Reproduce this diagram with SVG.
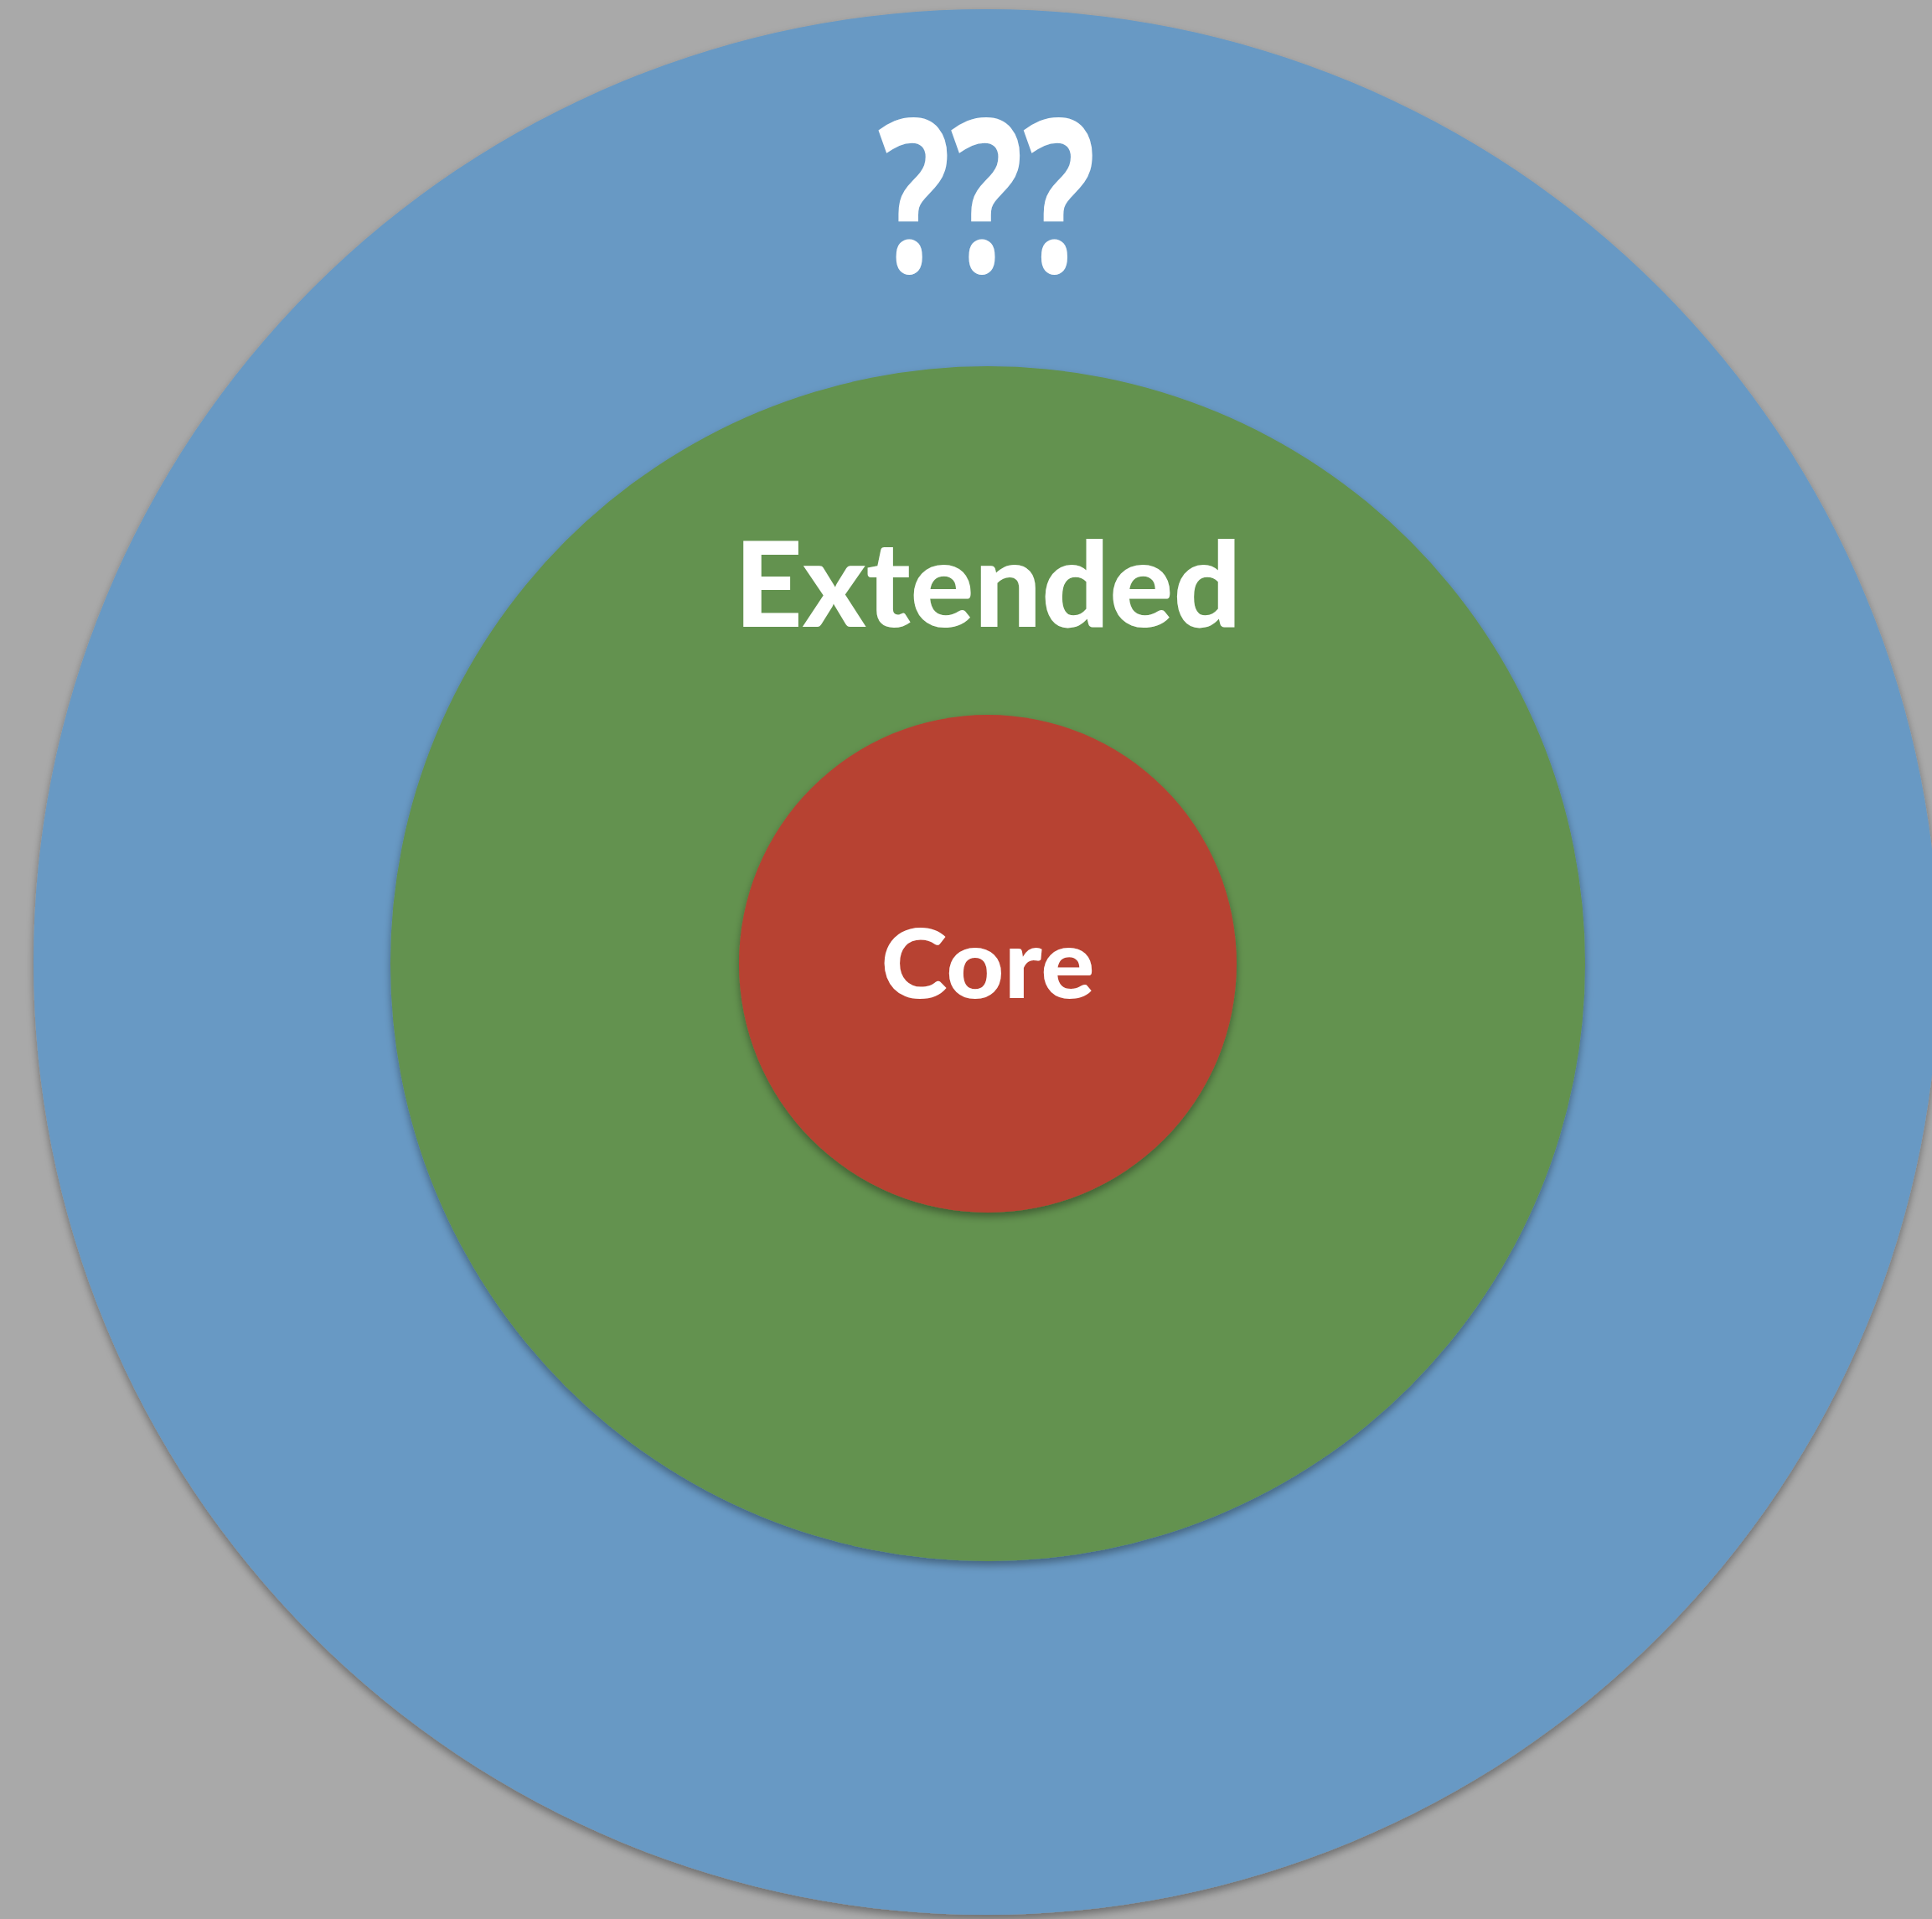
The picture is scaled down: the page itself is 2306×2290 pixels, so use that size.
<svg xmlns="http://www.w3.org/2000/svg" width="2306" height="2290" viewBox="0 0 2306 2290">
<style>
.lbl{font-family:Lato,"Open Sans","Liberation Sans",sans-serif;font-weight:900;fill:#ffffff;text-anchor:middle}
.q{font-family:"Open Sans",Lato,"Liberation Sans",sans-serif;font-weight:bold}
</style>
<defs>
<filter id="sh" x="-10%" y="-10%" width="120%" height="120%">
<feDropShadow dx="0" dy="5" stdDeviation="5" flood-color="#000000" flood-opacity="0.35"/>
</filter>
</defs>
<rect x="0" y="0" width="2306" height="2290" fill="#a9a9a9"/>
<g id="outer">
<circle cx="1177" cy="1148" r="1137" fill="#6899c4" filter="url(#sh)"/>
<text class="lbl q" x="1178" y="325" font-size="255" textLength="260" lengthAdjust="spacingAndGlyphs">???</text>
</g>
<g id="extended">
<circle cx="1179" cy="1150" r="713" fill="#63924f" filter="url(#sh)"/>
<text class="lbl" x="1179" y="748" font-size="141" textLength="605" lengthAdjust="spacingAndGlyphs">Extended</text>
</g>
<g id="core">
<circle cx="1179" cy="1150" r="297" fill="#b74232" filter="url(#sh)"/>
<text class="lbl" x="1179" y="1191" font-size="115" textLength="255" lengthAdjust="spacingAndGlyphs">Core</text>
</g>
<g id="connectors"/>
</svg>
